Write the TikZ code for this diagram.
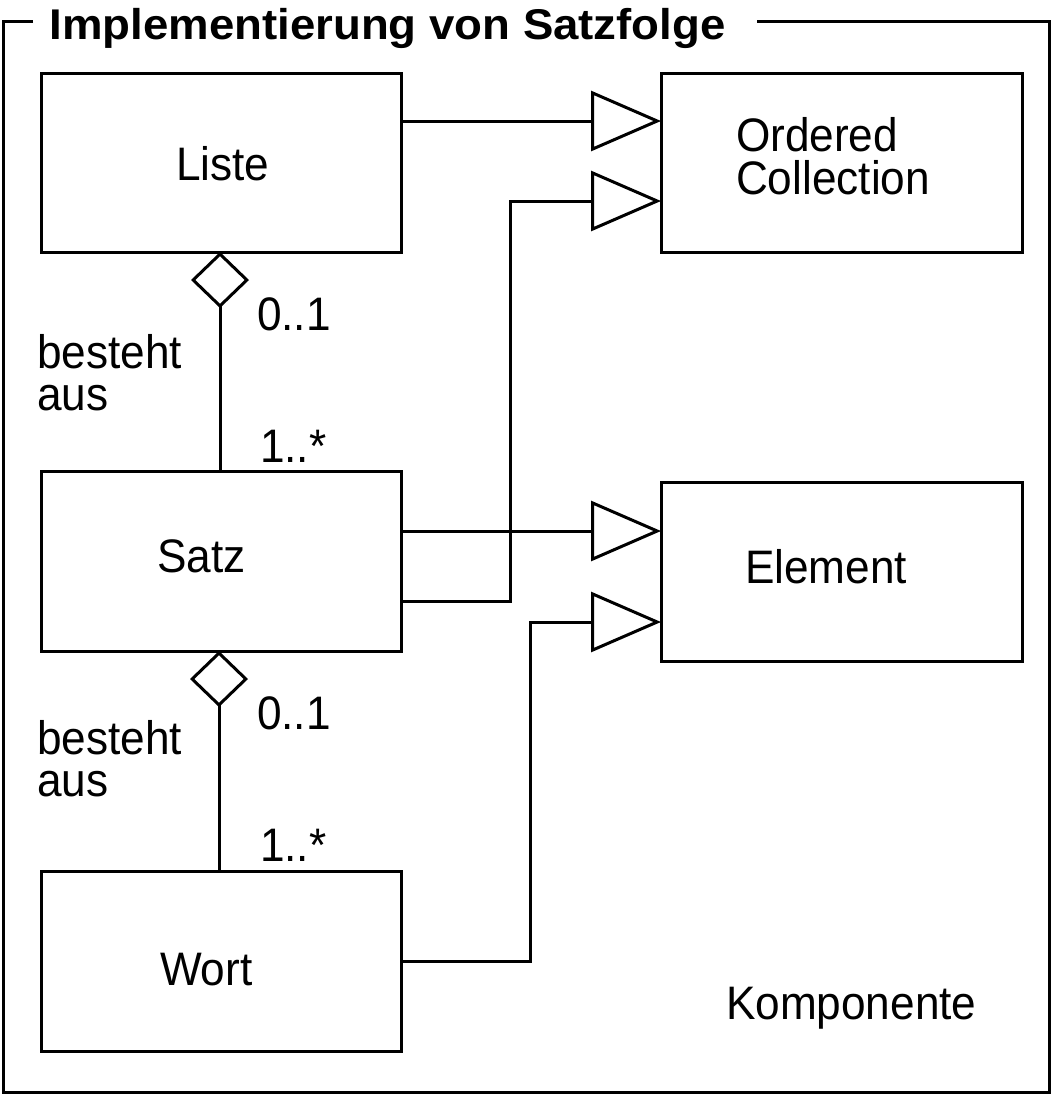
\documentclass[tikz,border=0pt]{standalone}
\usepackage{fontspec}
\setmainfont[FakeStretch=0.94]{Liberation Sans}
\newfontfamily\titlefont[FakeStretch=1.06]{Liberation Sans}
\usetikzlibrary{arrows.meta}
\begin{document}
\begin{tikzpicture}[x=1pt,y=-1pt,line width=3pt,
  box/.style={draw,rectangle,minimum width=360pt,minimum height=179pt,inner sep=0pt,outer sep=0pt},
  lbl/.style={anchor=base west,inner sep=0pt,outer sep=0pt,font=\fontsize{47}{43}\selectfont},
  two/.style={anchor=north west,inner sep=0pt,outer sep=0pt,align=left,font=\fontsize{47}{42}\selectfont},
  gen/.style={-{Triangle[open,length=70pt,width=60pt]}},
  agg/.style={{Diamond[open,length=56pt,width=58pt]}-}]
\useasboundingbox (0,0) rectangle (1056,1096);
% frame with title
\node[anchor=base west,inner sep=0pt,font=\titlefont\bfseries\fontsize{43}{43}\selectfont] (title) at (48,39) {Implementierung von Satzfolge};
\draw (33,21) -- (3,21) -- (3,1092) -- (1049,1092) -- (1049,21) -- (757,21);
% boxes
\node[box] (liste) at (221,162.5) {};
\node[box,minimum width=361pt] (oc) at (841.5,162.5) {};
\node[box,minimum height=180pt] (satz) at (221,561) {};
\node[box,minimum width=361pt,minimum height=179pt] (elem) at (841.5,571.5) {};
\node[box,minimum height=180pt] (wort) at (221,961) {};
% texts
\node[lbl] (tliste) at (176,180.7) {Liste};
\node[two,font=\fontsize{47}{43.3}\selectfont] (toc) at (736,117) {Ordered\\Collection};
\node[lbl] (tsatz) at (157,572.3) {Satz};
\node[lbl] (telem) at (745,583) {Element};
\node[lbl] (twort) at (160,985) {Wort};
\node[lbl] (tkomp) at (726,1019.3) {Komponente};
\node[lbl] (m1) at (257,330) {0..1};
\node[lbl] (m2) at (260,462) {1..*};
\node[lbl] (m3) at (257,729) {0..1};
\node[lbl] (m4) at (260,861) {1..*};
\node[two] (ba1) at (37,334) {besteht\\aus};
\node[two] (ba2) at (37,720) {besteht\\aus};
% aggregations
\draw[agg] (liste.south -| 220,0) -- (satz.north -| 220,0);
\draw[agg] (satz.south -| 219,0) -- (wort.north -| 219,0);
% generalizations
\draw[gen] (liste.east |- 0,121) -- (oc.west |- 0,121);
\draw[gen] (satz.east |- 0,601) -- (510,601) -- (510,201) -- (oc.west |- 0,201);
\draw[gen] (satz.east |- 0,531) -- (elem.west |- 0,531);
\draw[gen] (wort.east |- 0,961) -- (530,961) -- (530,622) -- (elem.west |- 0,622);
\end{tikzpicture}
\end{document}
